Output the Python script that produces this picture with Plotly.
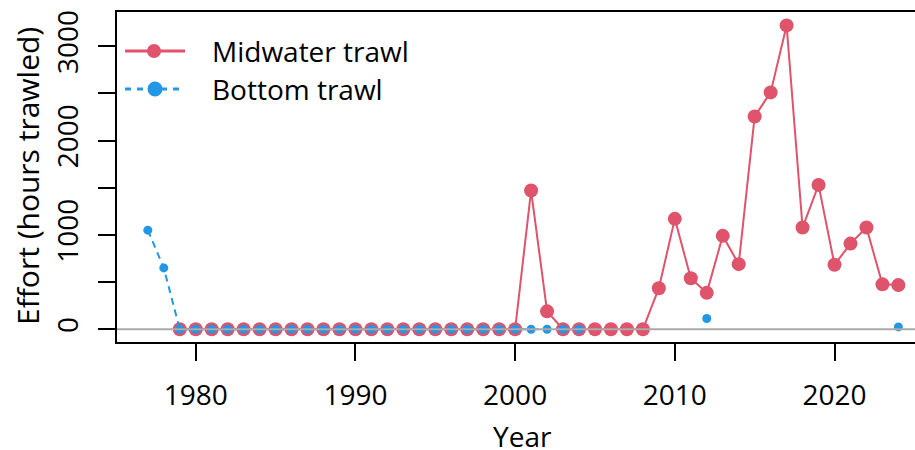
import plotly.graph_objects as go

# ---- data ----
mid_years = list(range(1979, 2025))
mid_values = [0]*22 + [1470, 190] + [0]*6 + [435, 1170, 540, 386, 990, 690, 2255, 2510, 3220,
                                          1078, 1530, 683, 908, 1078, 476, 468]
bot_years = list(range(1977, 2025))
bot_values = ([1050, 650] + [0]*26 + [None]*7 + [114] + [None]*11 + [25])

x_tickvals = [1980, 1990, 2000, 2010, 2020]
x_ticktext = ["1980", "1990", "2000", "2010", "2020"]
y_tickvals = [0, 500, 1000, 1500, 2000, 2500, 3000]
y_ticktext = ["0", "", "1000", "", "2000", "", "3000"]

RED = "#DF536B"
BLUE = "#2297E6"
FONT = "Open Sans"
FS = 28

fig = go.Figure()
fig.add_trace(go.Scatter(x=mid_years, y=mid_values, mode="lines+markers",
                         line=dict(color=RED, width=2),
                         marker=dict(color=RED, size=14), showlegend=False))
fig.add_trace(go.Scatter(x=bot_years, y=bot_values, mode="lines+markers",
                         line=dict(color=BLUE, width=2, dash="7px,5px"),
                         marker=dict(color=BLUE, size=9), connectgaps=False,
                         showlegend=False))

W, H = 915, 450
L, T = 117, 12
B = H - 342
pw, ph = W - L, H - T - B


def px(xp):
    return (xp - L) / pw


def py(yp):
    return (H - B - yp) / ph


shapes = [
    dict(type="line", xref="paper", yref="y", x0=0, x1=1, y0=0, y1=0,
         line=dict(color="#AAAAAA", width=2), layer="above"),
    # legend samples
    dict(type="line", xref="paper", yref="paper", x0=px(125), x1=px(185), y0=py(51), y1=py(51),
         line=dict(color=RED, width=3)),
    dict(type="circle", xref="paper", yref="paper", xsizemode="pixel", ysizemode="pixel",
         xanchor=px(154), yanchor=py(51), x0=-7, x1=7, y0=-7, y1=7,
         fillcolor=RED, line=dict(width=0)),
    dict(type="line", xref="paper", yref="paper", x0=px(125), x1=px(185), y0=py(89), y1=py(89),
         line=dict(color=BLUE, width=3, dash="6px,6px")),
    dict(type="circle", xref="paper", yref="paper", xsizemode="pixel", ysizemode="pixel",
         xanchor=px(155), yanchor=py(89), x0=-7.5, x1=7.5, y0=-7.5, y1=7.5,
         fillcolor=BLUE, line=dict(width=0)),
]

annotations = [
    dict(text="Midwater trawl", xref="paper", yref="paper", x=px(210), y=py(51),
         xanchor="left", yanchor="middle", showarrow=False,
         font=dict(family=FONT, size=FS, color="black")),
    dict(text="Bottom trawl", xref="paper", yref="paper", x=px(210), y=py(89),
         xanchor="left", yanchor="middle", showarrow=False,
         font=dict(family=FONT, size=FS, color="black")),
    dict(text="Year", xref="paper", yref="paper", x=px(522), y=py(436),
         xanchor="center", yanchor="middle", showarrow=False, borderpad=0,
         font=dict(family=FONT, size=FS, color="black")),
    dict(text="Effort (hours trawled)", xref="paper", yref="paper", x=px(27), y=py(176),
         xanchor="center", yanchor="middle", showarrow=False, textangle=-90,
         font=dict(family=FONT, size=30, color="black")),
]

fig.update_layout(
    width=W, height=H,
    margin=dict(l=L, r=0, t=T, b=B),
    paper_bgcolor="white", plot_bgcolor="white",
    font=dict(family=FONT, size=FS, color="black"),
    shapes=shapes, annotations=annotations,
    xaxis=dict(range=[1975.07, 2025.04], tickvals=x_tickvals, ticktext=x_ticktext,
               showgrid=False, zeroline=False, showline=True, mirror=True,
               linecolor="black", linewidth=2, ticks="outside", ticklen=17,
               tickwidth=2, tickcolor="black", ticklabelstandoff=10),
    yaxis=dict(range=[-135, 3362], tickvals=y_tickvals, ticktext=y_ticktext,
               showgrid=False, zeroline=False, showline=True, mirror=False,
               linecolor="black", linewidth=2, ticks="outside", ticklen=17,
               tickwidth=2, tickcolor="black", tickangle=-90, ticklabelstandoff=9),
)

fig.write_html("out.html", config={"displayModeBar": False},
               post_script="document.body.style.margin='0';document.body.style.overflow='hidden';")
